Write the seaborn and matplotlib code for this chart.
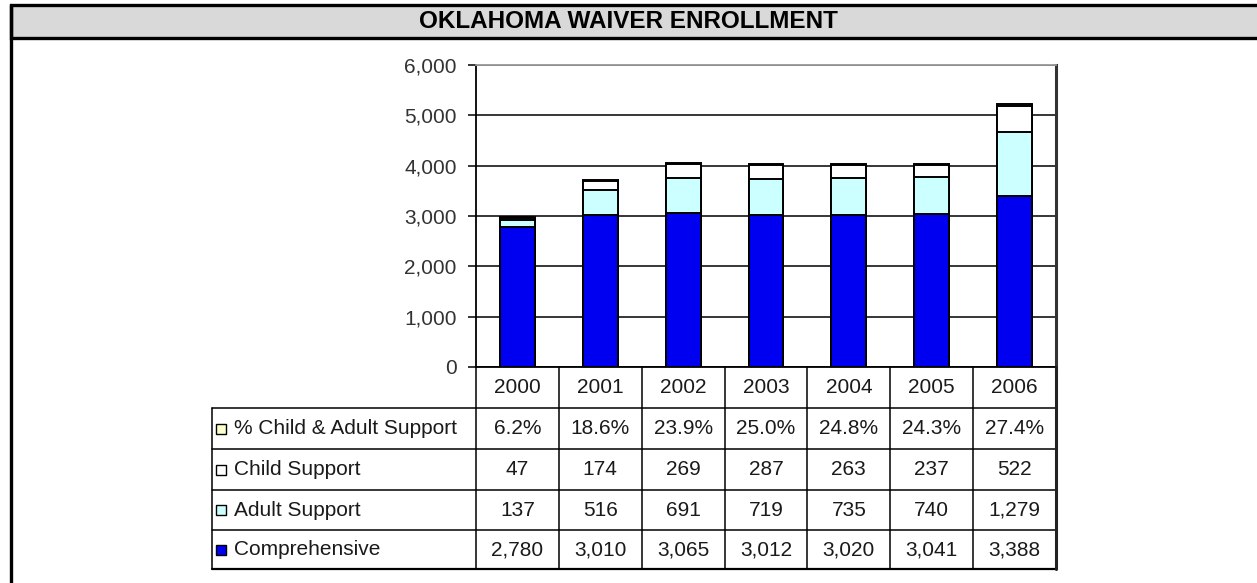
import matplotlib
matplotlib.use("Agg")
import matplotlib.pyplot as plt
import matplotlib.transforms as mtransforms
from matplotlib.patches import Rectangle
from matplotlib.lines import Line2D
import pandas as pd
import seaborn as sns

# ---- data -------------------------------------------------------------
years = ["2000", "2001", "2002", "2003", "2004", "2005", "2006"]
comprehensive = [2780, 3010, 3065, 3012, 3020, 3041, 3388]
adult_support = [137, 516, 691, 719, 735, 740, 1279]
child_support = [47, 174, 269, 287, 263, 237, 522]
pct_child_adult = [6.2, 18.6, 23.9, 25.0, 24.8, 24.3, 27.4]

y_ticks = [0, 1000, 2000, 3000, 4000, 5000, 6000]
title = "OKLAHOMA WAIVER ENROLLMENT"

# ---- style ------------------------------------------------------------
sns.set_style("white")
plt.rcParams["font.family"] = ["Liberation Sans", "DejaVu Sans"]

W, H = 1257, 583
fig = plt.figure(figsize=(W / 100, H / 100), dpi=100)
fig.patch.set_facecolor("white")

# pixel coordinates (origin top-left) -> figure
px = mtransforms.Affine2D().scale(1 / W, -1 / H).translate(0, 1) + fig.transFigure

AX_L, AX_R, AX_T, AX_B = 476, 1056, 65, 367
ax = fig.add_axes([AX_L / W, 1 - AX_B / H, (AX_R - AX_L) / W, (AX_B - AX_T) / H])

df = pd.DataFrame({
    "year": years,
    "Comprehensive": comprehensive,
    "Adult Support": adult_support,
    "Child Support": child_support,
    "% Child & Adult Support": pct_child_adult,
})
stack_order = ["Comprehensive", "Adult Support", "Child Support", "% Child & Adult Support"]
colors = {
    "Comprehensive": "#0000f0",
    "Adult Support": "#ccffff",
    "Child Support": "#ffffff",
    "% Child & Adult Support": "#ffffcc",
}
cum = df[stack_order].cumsum(axis=1)

# stacked bars: draw the running totals from the top layer down
for name in reversed(stack_order):
    sns.barplot(x=df["year"], y=cum[name], order=years, color=colors[name],
                saturation=1, width=0.42, edgecolor="black", linewidth=1.4,
                ax=ax, zorder=3)

ax.set_xlim(-0.5, len(years) - 0.5)
ax.set_ylim(0, 6000)
ax.set_yticks(y_ticks)
ax.set_yticklabels([f"{v:,}" for v in y_ticks], fontsize=15, color="#333333")
ax.set_xticks([])
ax.set_xlabel("")
ax.set_ylabel("")
ax.tick_params(axis="y", which="major", left=True, length=6, width=1.1,
               color="black", pad=8, direction="out")
ax.yaxis.grid(True, color="black", linewidth=1.1)
ax.set_axisbelow(True)
for side, col, lw in [("left", "black", 1.3), ("bottom", "black", 1.3),
                      ("top", "#999999", 1.3), ("right", "#333333", 2.2)]:
    ax.spines[side].set_visible(True)
    ax.spines[side].set_color(col)
    ax.spines[side].set_linewidth(lw)
for gl in ax.yaxis.get_gridlines():
    gl.set_zorder(1)

# ---- frame and title band ---------------------------------------------
fig.add_artist(Rectangle((11, 5), W + 10, 33, transform=px, facecolor="#d9d9d9",
                         edgecolor="black", linewidth=2.4, zorder=1))
fig.add_artist(Line2D([11, 11], [5, H + 5], transform=px, color="black",
                      linewidth=2.4))
fig.text(628, 22, title, transform=px, ha="center", va="center",
         fontsize=17.5, fontweight="bold", color="black")

# ---- data table -------------------------------------------------------
col_w = (AX_R - AX_L) / len(years)
col_edges = [AX_L + i * col_w for i in range(len(years) + 1)]
label_left = 212
row_edges = [AX_B, 408, 449, 490, 530, 569]
tcolor = "#1a1a1a"
lw = 1.1

# header row with years
for i, yr in enumerate(years):
    fig.text(col_edges[i] + col_w / 2, (row_edges[0] + row_edges[1]) / 2, yr,
             transform=px, ha="center", va="center", fontsize=15, color=tcolor)

table_rows = [
    ("% Child & Adult Support", [f"{v:.1f}%" for v in pct_child_adult]),
    ("Child Support", [f"{v:,}" for v in child_support]),
    ("Adult Support", [f"{v:,}" for v in adult_support]),
    ("Comprehensive", [f"{v:,}" for v in comprehensive]),
]
for r, (name, cells) in enumerate(table_rows):
    top, bot = row_edges[r + 1], row_edges[r + 2]
    yc = (top + bot) / 2
    fig.add_artist(Rectangle((216, yc - 5), 10, 10, transform=px,
                             facecolor=colors[name], edgecolor="black",
                             linewidth=1.0))
    fig.text(234, yc, name, transform=px, ha="left", va="center",
             fontsize=15, color=tcolor)
    for i, txt in enumerate(cells):
        fig.text(col_edges[i] + col_w / 2, yc, txt, transform=px, ha="center",
                 va="center", fontsize=15, color=tcolor)

# grid lines of the table
for y in row_edges[1:]:
    fig.add_artist(Line2D([label_left, AX_R], [y, y], transform=px,
                          color="black", linewidth=lw if y != row_edges[-1] else 1.6))
for x in col_edges[:-1]:
    fig.add_artist(Line2D([x, x], [row_edges[0], row_edges[-1]], transform=px,
                          color="black", linewidth=lw))
fig.add_artist(Line2D([AX_R, AX_R], [row_edges[0], row_edges[-1]], transform=px,
                      color="#222222", linewidth=2.2))
fig.add_artist(Line2D([label_left, label_left], [row_edges[1], row_edges[-1]],
                      transform=px, color="black", linewidth=lw))

fig.savefig("out.png", dpi=100)
